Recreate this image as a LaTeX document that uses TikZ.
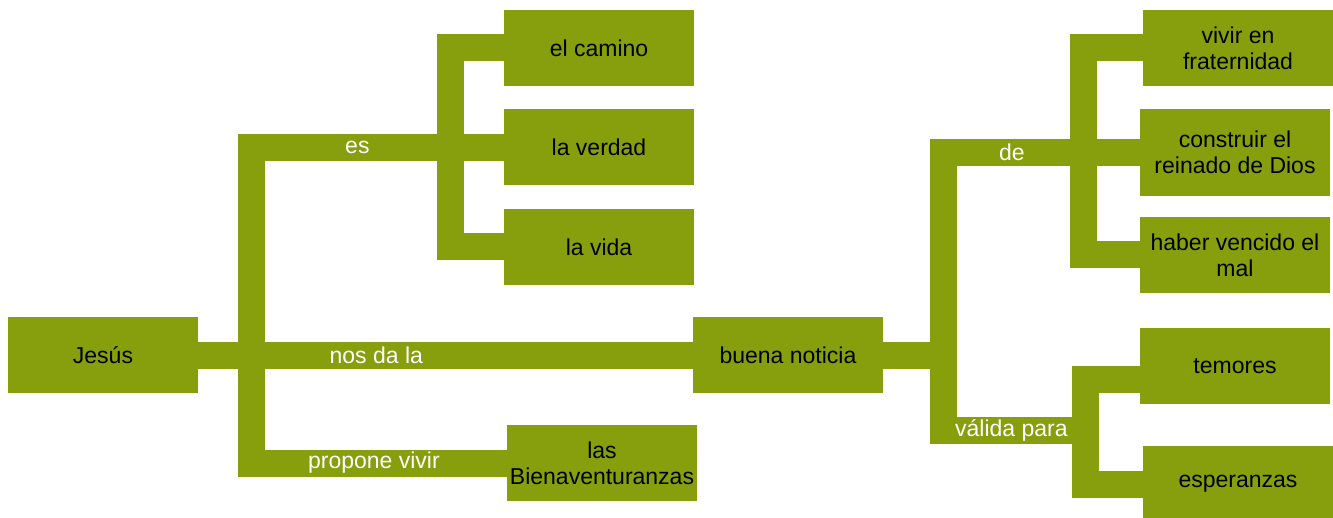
\documentclass[tikz,border=0pt]{standalone}
\usepackage{fontspec}
\setmainfont{Liberation Sans}
\usepackage{tikz}
\definecolor{mapgreen}{RGB}{135,158,13}
\tikzstyle{block} = [rectangle, fill=mapgreen, minimum width=95pt, minimum height=38pt, inner sep=0pt, align=center, font=\fontsize{11.5}{13}\selectfont]
\tikzstyle{link} = [draw=mapgreen, line width=13.5pt]
\tikzstyle{linktext} = [text=white, inner sep=0pt, font=\fontsize{11.5}{13}\selectfont]

\begin{document}
\begin{tikzpicture}[x=0.5pt, y=-0.5pt, node distance=49.75pt]
\useasboundingbox (0,0) rectangle (1333,518);

% Nodes / blocks
\node (jesus) [block] at (103,355) {Jesús};
\node (camino) [block] at (599,48) {el camino};
\node (verdad) [block, below of=camino] {la verdad};
\node (vida) [block, below of=verdad] {la vida};
\node (bienav) [block] at (602,463) {las\\Bienaventuranzas};
\node (buena) [block] at (788,355) {buena noticia};
\node (vivir) [block] at (1238,48) {vivir en\\fraternidad};
\node (reinado) [block, minimum height=43.5pt] at (1235,152.5) {construir el\\reinado de Dios};
\node (mal) [block] at (1235,255) {haber vencido el\\mal};
\node (temores) [block] at (1235,366) {temores};
\node (esperanzas) [block] at (1238,484) {esperanzas};

% Forks
\coordinate (jfork) at (251.5,355);
\coordinate (efork) at (450,147.5);
\coordinate (bfork) at (943,355);
\coordinate (dfork) at (1083.5,152.5);
\coordinate (vfork) at (1085.5,430.5);

% Links
\draw [link] (jesus) -- node[linktext, pos=0.36] {nos da la} (buena);
\draw [link] (jfork) |- node[linktext, pos=0.71] {es} (verdad);
\draw [link] (jfork) |- node[linktext, pos=0.74] {propone vivir} (bienav);
\draw [link] (efork) |- (camino);
\draw [link] (efork) |- (vida);
\draw [link] (buena) -- (bfork);
\draw [link] (bfork) |- node[linktext, pos=0.675] {de} (reinado);
\draw [link] (bfork) |- node[linktext, pos=0.74] {válida para} (vfork);
\draw [link] (dfork) |- (vivir);
\draw [link] (dfork) |- (mal);
\draw [link] (vfork) |- ([yshift=-6.75pt]temores.west);
\draw [link] (vfork) |- (esperanzas);

\end{tikzpicture}
\end{document}
